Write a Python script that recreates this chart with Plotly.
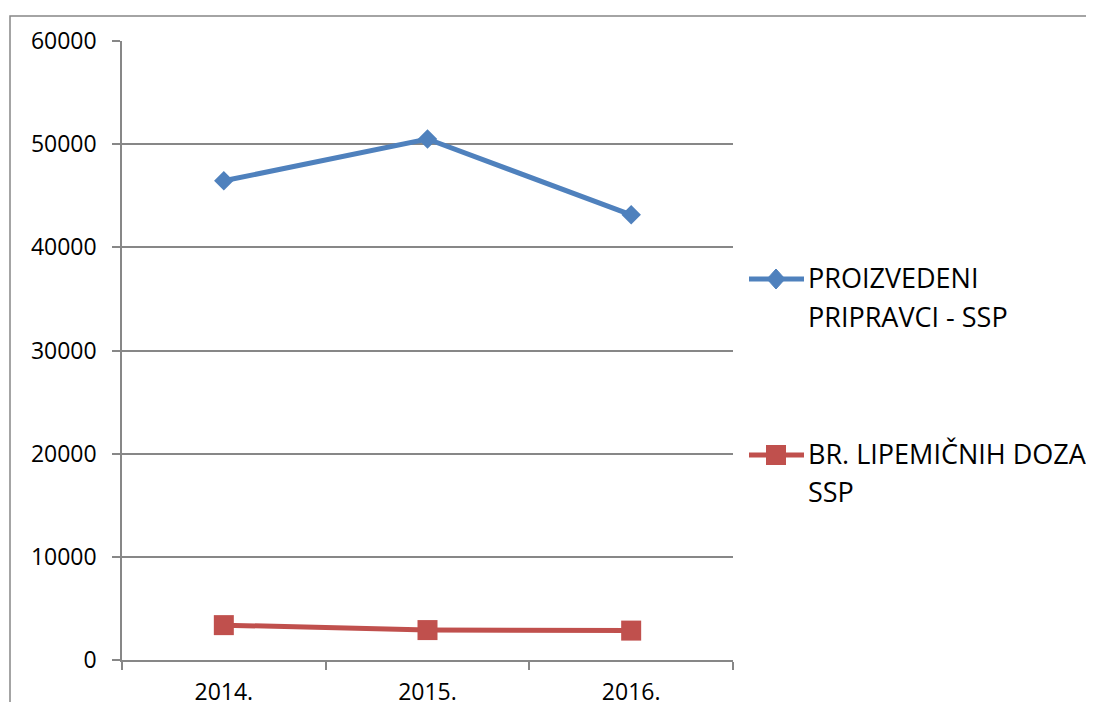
import plotly.graph_objects as go

years = ["2014.", "2015.", "2016."]
proizvedeni = [46450, 50500, 43150]
lipemicni = [3380, 2900, 2850]
series_names = ["PROIZVEDENI PRIPRAVCI - SSP", "BR. LIPEMIČNIH DOZA SSP"]
legend_lines = [["PROIZVEDENI", "PRIPRAVCI - SSP"], ["BR. LIPEMIČNIH DOZA", "SSP"]]
y_ticks = [0, 10000, 20000, 30000, 40000, 50000, 60000]

BLUE = "#4F81BD"
RED = "#C0504D"
GRAY = "#878787"
FONT = "Open Sans"

# the HTML page body has an 8px margin, so figure coords = page coords - 8
OFF = 8
W, H = 1094, 702
L, R, T, B = 122 - OFF, 733 - OFF, 41 - OFF, 660 - OFF


def px(x):
    # x given in page pixels
    return (x - OFF - L) / (R - L)


def py(y):
    # y given in page pixels
    return (B - (y - OFF)) / (B - T)


fig = go.Figure()
fig.add_trace(go.Scatter(
    x=years, y=proizvedeni, mode="lines+markers", name=series_names[0],
    line=dict(color=BLUE, width=5),
    marker=dict(symbol="diamond", size=15, color=BLUE),
    showlegend=False,
))
fig.add_trace(go.Scatter(
    x=years, y=lipemicni, mode="lines+markers", name=series_names[1],
    line=dict(color=RED, width=5),
    marker=dict(symbol="square", size=20, color=RED),
    showlegend=False,
))

shapes = []
# outer chart border
shapes.append(dict(type="rect", xref="paper", yref="paper",
                   x0=px(10), x1=px(1120), y0=py(16), y1=py(730),
                   line=dict(color=GRAY, width=1.5), fillcolor="rgba(0,0,0,0)",
                   layer="below"))

annotations = []
legend_y = [279, 455]
colors = [BLUE, RED]
for i in range(2):
    yc = legend_y[i]
    shapes.append(dict(type="line", xref="paper", yref="paper",
                       x0=px(749), x1=px(804), y0=py(yc), y1=py(yc),
                       line=dict(color=colors[i], width=5)))
    if i == 0:
        path = (f"M {px(767)},{py(yc)} L {px(776)},{py(yc-10)} "
                f"L {px(785)},{py(yc)} L {px(776)},{py(yc+10)} Z")
        shapes.append(dict(type="path", xref="paper", yref="paper", path=path,
                           fillcolor=colors[i], line=dict(color=colors[i], width=1)))
    else:
        shapes.append(dict(type="rect", xref="paper", yref="paper",
                           x0=px(766), x1=px(786), y0=py(yc - 10), y1=py(yc + 10),
                           fillcolor=colors[i], line=dict(color=colors[i], width=0)))
    for j, line in enumerate(legend_lines[i]):
        annotations.append(dict(
            xref="paper", yref="paper", x=px(806), y=py(yc - 2 + 39 * j),
            xanchor="left", yanchor="middle", showarrow=False,
            text=line, font=dict(family=FONT, size=27, color="black"),
        ))

fig.update_layout(
    width=W, height=H,
    margin=dict(l=L, r=W - R, t=T, b=H - B, pad=0, autoexpand=False),
    paper_bgcolor="white", plot_bgcolor="white",
    shapes=shapes, annotations=annotations,
    showlegend=False,
    xaxis=dict(
        type="category", categoryorder="array", categoryarray=years,
        tickson="boundaries", ticks="outside", ticklen=8, tickcolor=GRAY, tickwidth=1.5,
        showline=True, linecolor=GRAY, linewidth=1.5, showgrid=False,
        tickfont=dict(family=FONT, size=23, color="black"),
        ticklabelstandoff=11, range=[-0.5, 2.5], fixedrange=True, automargin=False,
    ),
    yaxis=dict(
        range=[0, 60000], tickvals=y_ticks, ticktext=[str(v) for v in y_ticks],
        ticks="outside", ticklen=8, tickcolor=GRAY, tickwidth=1.5,
        showline=True, linecolor=GRAY, linewidth=1.5,
        showgrid=True, gridcolor=GRAY, gridwidth=1.5, zeroline=False,
        tickfont=dict(family=FONT, size=23, color="black"),
        ticklabelstandoff=11, automargin=False,
    ),
)

fig.write_html("out.html")
